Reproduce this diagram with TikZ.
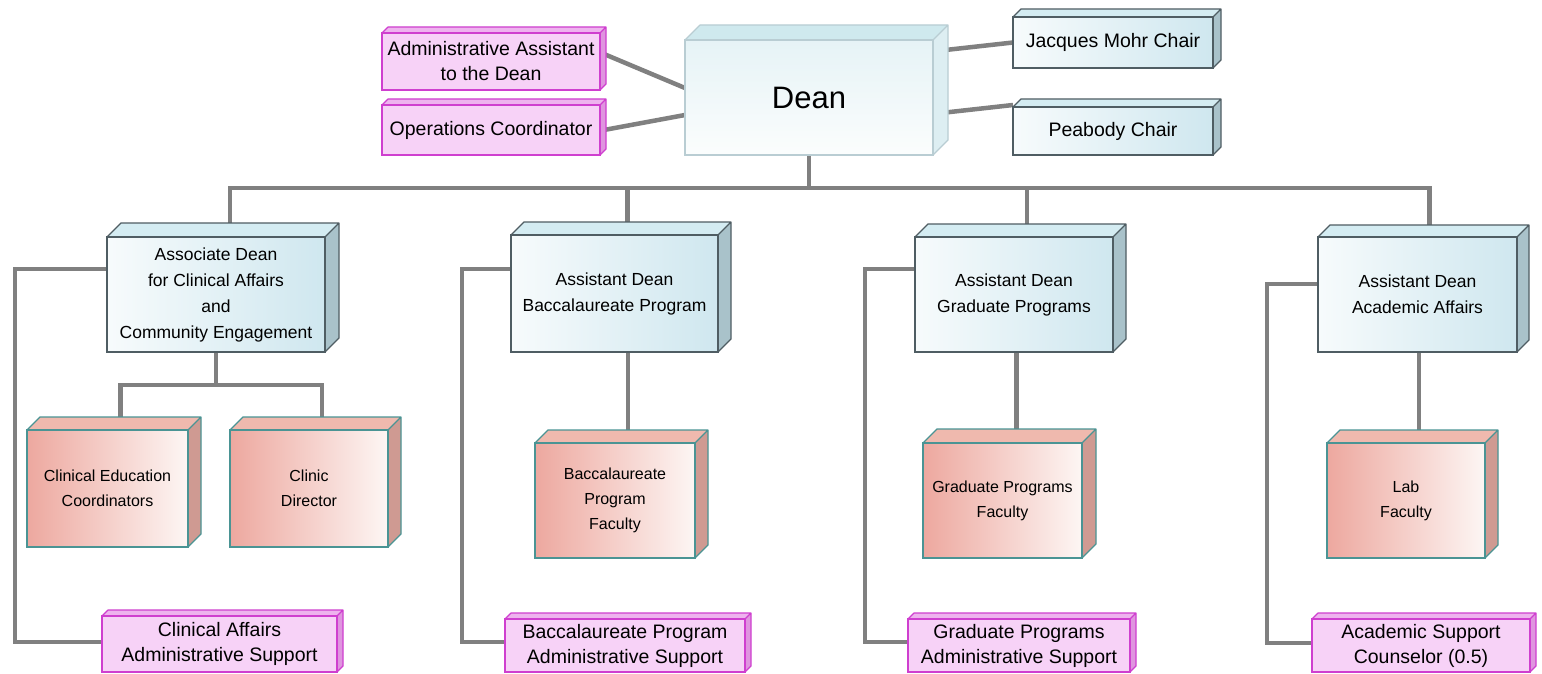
\documentclass[tikz,border=0pt]{standalone}
\usepackage{fontspec}
\setmainfont{Liberation Sans}
\usetikzlibrary{backgrounds}
\definecolor{blTopC}{HTML}{D4ECF2}
\definecolor{blSideC}{HTML}{A9C2CA}
\definecolor{blEdgeC}{HTML}{4F5D63}
\definecolor{blL}{HTML}{F7FBFC}
\definecolor{blR}{HTML}{CFE7EF}
\definecolor{dnTopC}{HTML}{CFE9EE}
\definecolor{dnSideC}{HTML}{DDEEF2}
\definecolor{dnEdgeC}{HTML}{B9CDD3}
\definecolor{dnT}{HTML}{E6F3F6}
\definecolor{dnB}{HTML}{FBFDFD}
\definecolor{fcTopC}{HTML}{EFB9AE}
\definecolor{fcSideC}{HTML}{CF9A92}
\definecolor{fcEdgeC}{HTML}{4A9494}
\definecolor{fcL}{HTML}{EDA89F}
\definecolor{fcR}{HTML}{FDF6F4}
\definecolor{mgTopC}{HTML}{EEB3EE}
\definecolor{mgSideC}{HTML}{DF95DF}
\definecolor{mgEdgeC}{HTML}{CF3FCF}
\definecolor{mgFrontC}{HTML}{F7D2F7}
\definecolor{connC}{HTML}{808080}
\tikzset{
  blTop/.style={fill=blTopC}, blSide/.style={fill=blSideC},
  blEdge/.style={draw=blEdgeC, line width=1.3pt, line join=round},
  blFront/.style={draw=blEdgeC, line width=1.3pt, left color=blL, right color=blR,
    align=center, inner sep=0pt, outer sep=0pt, text=black,
    font=\fontsize{17.5}{26}\selectfont},
  dnTop/.style={fill=dnTopC}, dnSide/.style={fill=dnSideC},
  dnEdge/.style={draw=dnEdgeC, line width=1.2pt, line join=round},
  dnFront/.style={draw=dnEdgeC, line width=1.2pt, top color=dnT, bottom color=dnB,
    align=center, inner sep=0pt, outer sep=0pt, text=black,
    font=\fontsize{31}{36}\selectfont},
  fcTop/.style={fill=fcTopC}, fcSide/.style={fill=fcSideC},
  fcEdge/.style={draw=fcEdgeC, line width=1.3pt, line join=round},
  fcFront/.style={draw=fcEdgeC, line width=1.3pt, left color=fcL, right color=fcR,
    align=center, inner sep=0pt, outer sep=0pt, text=black,
    font=\fontsize{16}{25}\selectfont},
  mgTop/.style={fill=mgTopC}, mgSide/.style={fill=mgSideC},
  mgEdge/.style={draw=mgEdgeC, line width=1.2pt, line join=round},
  mgFront/.style={draw=mgEdgeC, line width=1.2pt, fill=mgFrontC,
    align=center, inner sep=0pt, outer sep=0pt, text=black,
    font=\fontsize{19.5}{25}\selectfont},
  conn/.style={draw=connC, line width=4.5pt},
}
% #1 kind, #2 name, #3 x1, #4 y1, #5 x2, #6 y2, #7 depth, #8 text
\newcommand\obox[8]{%
  \fill[#1Top] (#3,#4) -- (#3+#7,#4-#7) -- (#5+#7,#4-#7) -- (#5,#4) -- cycle;
  \fill[#1Side] (#5,#4) -- (#5+#7,#4-#7) -- (#5+#7,#6-#7) -- (#5,#6) -- cycle;
  \draw[#1Edge] (#3,#4) -- (#3+#7,#4-#7) -- (#5+#7,#4-#7) -- (#5+#7,#6-#7) -- (#5,#6)
    (#5,#4) -- (#5+#7,#4-#7);
  \node[#1Front, minimum width={#5pt-#3pt}, minimum height={#6pt-#4pt}] (#2)
    at ({(#3+#5)/2},{(#4+#6)/2}) {#8};
  \coordinate (#2-t) at ({(#3+#5)/2+#7},{#4-#7});
}
\begin{document}
\begin{tikzpicture}[x=1pt,y=-1pt]
\useasboundingbox (0,0) rectangle (1542,674);

\obox{dn}{dean}{685}{40}{933}{155}{15}{Dean}
\obox{mg}{aa}{382}{33}{600}{90}{6}{Administrative Assistant\\to the Dean}
\obox{mg}{oc}{382}{105}{600}{155}{6}{Operations Coordinator}
\obox{bl}{jm}{1013}{17}{1213}{68}{8}{\fontsize{19.5}{24}\selectfont Jacques Mohr Chair}
\obox{bl}{pb}{1013}{107}{1213}{155}{8}{\fontsize{19.5}{24}\selectfont Peabody Chair}

\obox{bl}{ad}{107}{237}{325}{352}{14}{Associate Dean\\for Clinical Affairs\\and\\Community Engagement}
\obox{bl}{bad}{511}{235}{718}{352}{13}{Assistant Dean\\Baccalaureate Program}
\obox{bl}{gad}{915}{237}{1113}{352}{13}{Assistant Dean\\Graduate Programs}
\obox{bl}{aad}{1318}{237}{1517}{352}{12}{Assistant Dean\\Academic Affairs}

\obox{fc}{cec}{27}{430}{188}{547}{13}{Clinical Education\\Coordinators}
\obox{fc}{cd}{230}{430}{388}{547}{13}{Clinic\\Director}
\obox{fc}{bf}{535}{443}{695}{558}{13}{Baccalaureate\\Program\\Faculty}
\obox{fc}{gf}{923}{443}{1082}{558}{14}{Graduate Programs\\Faculty}
\obox{fc}{lf}{1327}{443}{1485}{558}{13}{Lab\\Faculty}

\obox{mg}{cas}{102}{616}{337}{672}{6}{Clinical Affairs\\Administrative Support}
\obox{mg}{bas}{505}{619}{745}{672}{6}{Baccalaureate Program\\Administrative Support}
\obox{mg}{gas}{908}{619}{1130}{672}{6}{Graduate Programs\\Administrative Support}
\obox{mg}{asc}{1312}{619}{1530}{672}{6}{Academic Support\\Counselor (0.5)}

\begin{scope}[on background layer]
  \fill[white] (0,0) rectangle (1542,674);
  \draw[conn] ([xshift=4pt,yshift=7.5pt]aa.east) -- ([yshift=9.5pt]dean.west);
  \draw[conn] ([xshift=4pt]oc.east) -- ([yshift=-17.5pt]dean.west);
  \draw[conn] ([xshift=8pt,yshift=47pt]dean.east) -- (jm.west);
  \draw[conn] ([xshift=8pt,yshift=-15.5pt]dean.east) -- ([yshift=2pt]pb.north west);

  \path (dean.south) ++(0,33) coordinate (bus);
  \draw[conn] (dean.south) -- (bus);
  \draw[conn] (ad-t) |- (bus);
  \draw[conn] (bad-t) |- (bus);
  \draw[conn] (gad-t) |- (bus);
  \draw[conn] (aad-t) |- (bus);

  \path (ad.south) ++(0,33) coordinate (adbus);
  \draw[conn] (ad.south) -- (adbus);
  \draw[conn] (cec-t) |- (adbus);
  \draw[conn] (cd-t) |- (adbus);
  \draw[conn] (bf-t) -- (bf-t |- bad.south);
  \draw[conn] (gf-t) -- (gf-t |- gad.south);
  \draw[conn] (lf-t) -- (lf-t |- aad.south);

  \draw[conn] ([yshift=-32pt]ad.north west) -- ++(-92,0) |- ([yshift=2pt]cas.west);
  \draw[conn] ([yshift=-34pt]bad.north west) -- ++(-49,0) |- ([yshift=3.5pt]bas.west);
  \draw[conn] ([yshift=-32pt]gad.north west) -- ++(-50,0) |- ([yshift=3.5pt]gas.west);
  \draw[conn] ([yshift=-47pt]aad.north west) -- ++(-51,0) |- ([yshift=2.5pt]asc.west);
\end{scope}
\end{tikzpicture}
\end{document}
